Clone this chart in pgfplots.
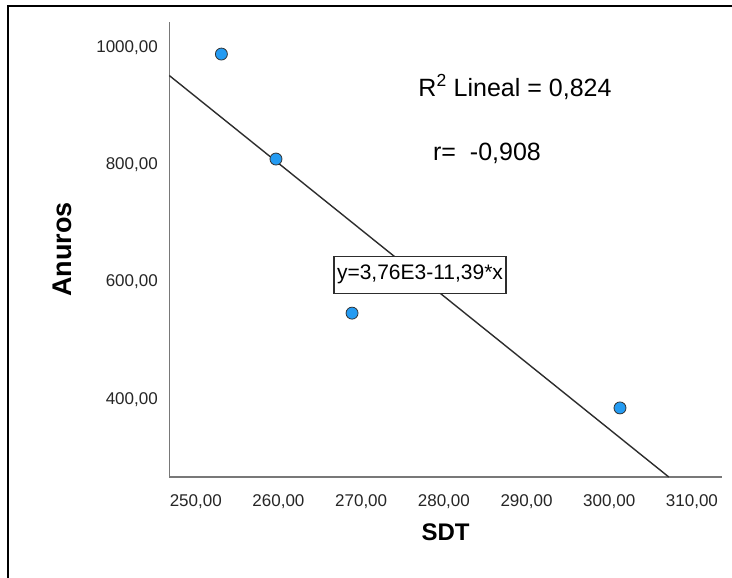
\documentclass[border=0pt]{standalone}
\usepackage{fontspec}
\setmainfont{Liberation Sans}
\usepackage{pgfplots}
\pgfplotsset{compat=1.18}
\definecolor{dotblue}{RGB}{36,155,242}
\definecolor{axisgray}{RGB}{120,120,120}
\definecolor{linegray}{RGB}{45,45,45}
\begin{document}
\begin{tikzpicture}
\useasboundingbox (0pt,0pt) rectangle (732pt,578pt);
\fill[white] (0pt,0pt) rectangle (732pt,578pt);
\draw[line width=2pt,black] (8pt,0pt) -- (8pt,572pt) -- (732pt,572pt);
\begin{axis}[
  scale only axis,
  width=552.4pt, height=455.3pt,
  at={(169.3pt,101pt)}, anchor=south west,
  xmin=246.8, xmax=313.6,
  ymin=267, ymax=1045,
  axis lines=left,
  axis line style={-, axisgray, line width=1.2pt},
  major tick length=0pt,
  xtick={250,260,270,280,290,300,310},
  xticklabels={{250,00},{260,00},{270,00},{280,00},{290,00},{300,00},{310,00}},
  ytick={400,600,800,1000},
  yticklabels={{400,00},{600,00},{800,00},{1000,00}},
  tick label style={font=\fontsize{17}{19}\selectfont, text=black!85},
  xticklabel style={yshift=-14pt},
  yticklabel style={xshift=-8pt},
  xlabel={SDT},
  ylabel={Anuros},
  xlabel style={font=\fontsize{24}{26}\selectfont\bfseries, yshift=-8pt},
  ylabel style={font=\fontsize{27}{29}\selectfont\bfseries, yshift=18pt},
  clip=false,
]
\addplot[linegray, line width=1.4pt] coordinates {(246.8,953) (307.2,267)};
\addplot[only marks, mark=*, mark size=6pt,
  mark options={fill=dotblue, draw=black!80, line width=0.8pt}]
  coordinates {(253.1,989.7) (259.7,810.3) (268.9,547) (301.3,385)};
\end{axis}
\node[font=\fontsize{25}{27}\selectfont] at (515pt,491pt) {R\textsuperscript{2} Lineal = 0,824};
\node[font=\fontsize{25}{27}\selectfont] at (487pt,425pt) {r=\ \ -0,908};
\node[draw=linegray, line width=1.3pt, fill=white, inner xsep=3pt, minimum height=37pt,
  font=\fontsize{21}{23}\selectfont] at (420pt,303.3pt) {y=3,76E3-11,39*x};
\end{tikzpicture}
\end{document}
